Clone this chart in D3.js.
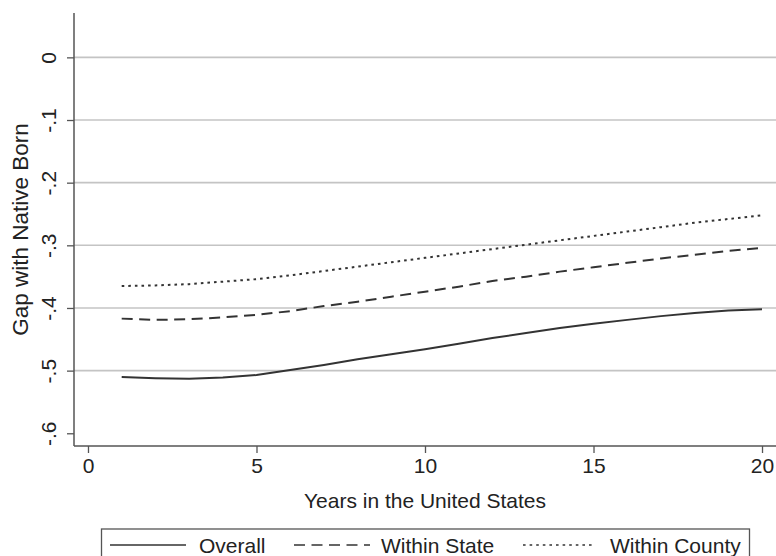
<!DOCTYPE html>
<html><head><meta charset="utf-8">
<script src="https://cdn.jsdelivr.net/npm/d3@7"></script>
<style>body{margin:0;background:#fff}svg{display:block}text{font-family:"Liberation Sans",Arial,sans-serif;fill:#222}</style>
</head><body><svg id="c" width="776" height="556"></svg>
<script>
const years = [1,2,3,4,5,6,7,8,9,10,11,12,13,14,15,16,17,18,19,20];
const overall = [-0.510,-0.512,-0.513,-0.511,-0.507,-0.499,-0.491,-0.482,-0.474,-0.466,-0.457,-0.448,-0.440,-0.432,-0.425,-0.419,-0.413,-0.408,-0.404,-0.402];
const withinState = [-0.417,-0.419,-0.418,-0.415,-0.411,-0.405,-0.397,-0.390,-0.382,-0.374,-0.366,-0.357,-0.350,-0.342,-0.335,-0.328,-0.321,-0.315,-0.309,-0.304];
const withinCounty = [-0.365,-0.364,-0.362,-0.358,-0.354,-0.348,-0.341,-0.334,-0.327,-0.320,-0.313,-0.306,-0.299,-0.292,-0.285,-0.278,-0.271,-0.264,-0.258,-0.252];
const seriesNames = ["Overall","Within State","Within County"];
const xTicks = [0,5,10,15,20];
const yTicks = [0,-0.1,-0.2,-0.3,-0.4,-0.5,-0.6];
const yTickLabels = ["0","-.1","-.2","-.3","-.4","-.5","-.6"];
const gridTicks = [0,-0.1,-0.2,-0.3,-0.4,-0.5];

const svg = d3.select("#c");
const L=74, R=776, T=13, B=446;
const FS=21;
const x = d3.scaleLinear().domain([-0.415,20.415]).range([L,R]);
const y = d3.scaleLinear().domain([-0.6203,0.0708]).range([B,T]);
const ink="#333";

// grid
svg.append("g").selectAll("line").data(gridTicks).join("line")
  .attr("x1",L).attr("x2",R).attr("y1",d=>y(d)).attr("y2",d=>y(d))
  .attr("stroke","#c4c4c4").attr("stroke-width",1.6);

// y axis
const yAxis = svg.append("g").attr("transform",`translate(${L},0)`)
  .call(d3.axisLeft(y).tickValues(yTicks).tickSize(7).tickFormat((d,i)=>yTickLabels[i]));
yAxis.select(".domain").attr("d",`M0,${T}V${B}`).attr("stroke","#555").attr("stroke-width",1.5);
yAxis.selectAll(".tick line").attr("stroke","#555").attr("stroke-width",1.3);
yAxis.selectAll(".tick text").attr("font-size",FS).attr("fill","#222")
  .attr("transform","rotate(-90)").attr("x",0).attr("y",-18).attr("dy","0").attr("text-anchor","middle")
  .attr("font-family","Liberation Sans, Arial, sans-serif");

// x axis
const xAxis = svg.append("g").attr("transform",`translate(0,${B})`)
  .call(d3.axisBottom(x).tickValues(xTicks).tickSize(7).tickFormat(d3.format("d")));
xAxis.select(".domain").attr("d",`M${L},0H${R}`).attr("stroke","#555").attr("stroke-width",1.5);
xAxis.selectAll(".tick line").attr("stroke","#555").attr("stroke-width",1.3);
xAxis.selectAll(".tick text").attr("font-size",FS).attr("fill","#222").attr("y",12)
  .attr("font-family","Liberation Sans, Arial, sans-serif");

// titles
svg.append("text").attr("x",(L+R)/2).attr("y",508).attr("text-anchor","middle")
  .attr("font-size",FS).text("Years in the United States");
svg.append("text").attr("transform",`translate(28,${(T+B)/2}) rotate(-90)`).attr("text-anchor","middle")
  .attr("font-size",22.5).text("Gap with Native Born");

// lines
const dashes = [null,"11,6.5","2.6,4"];
const data = [overall,withinState,withinCounty];
const line = d3.line().x((d,i)=>x(years[i])).y(d=>y(d));
data.forEach((s,k)=>{
  svg.append("path").datum(s).attr("d",line).attr("fill","none")
    .attr("stroke",ink).attr("stroke-width",2).attr("stroke-dasharray",dashes[k]);
});

// legend
const lg = svg.append("g");
lg.append("rect").attr("x",101.5).attr("y",529).attr("width",648).attr("height",40)
  .attr("fill","#fff").attr("stroke","#555").attr("stroke-width",1.3);
const items = [{x1:110,x2:186,tx:199},{x1:294,x2:370,tx:381},{x1:523,x2:592,tx:610}];
items.forEach((it,k)=>{
  lg.append("line").attr("x1",it.x1).attr("x2",it.x2).attr("y1",545).attr("y2",545)
    .attr("stroke",ink).attr("stroke-width",1.6).attr("stroke-dasharray",dashes[k]);
  lg.append("text").attr("x",it.tx).attr("y",553).attr("font-size",FS).text(seriesNames[k]);
});
</script></body></html>
